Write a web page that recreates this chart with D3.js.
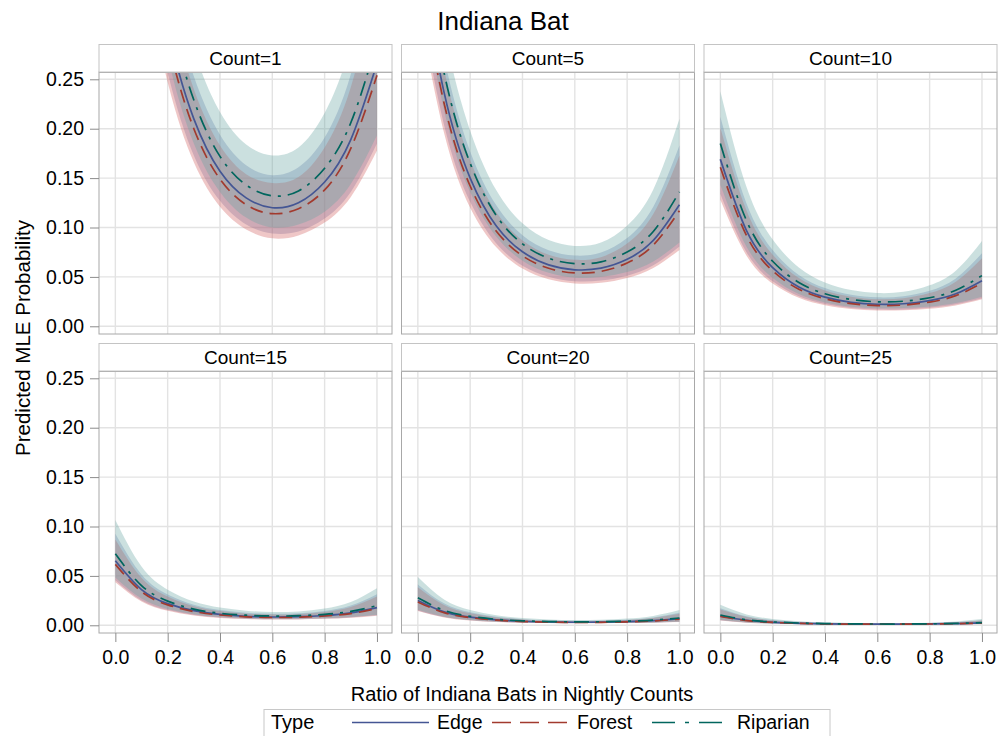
<!DOCTYPE html>
<html>
<head>
<meta charset="utf-8">
<script src="https://cdn.jsdelivr.net/npm/d3@7"></script>
<style>
body { margin: 0; background: #fff; }
text { font-family: Arial, "Liberation Sans", sans-serif; fill: #000; }
</style>
</head>
<body>
<svg id="chart" width="1000" height="736"></svg>
<script>
// ratio of Indiana bats (x), one panel per nightly count
const ratios = [0, 0.1, 0.2, 0.3, 0.4, 0.5, 0.6, 0.7, 0.8, 0.9, 1.0];
const counts = [1, 5, 10, 15, 20, 25];
const types = ['Edge', 'Forest', 'Riparian'];
const yTicks = [0, 0.05, 0.10, 0.15, 0.20, 0.25];
const xTicks = [0, 0.2, 0.4, 0.6, 0.8, 1.0];

// one row per count, one value per ratio
const edgeMean = [
	[0.632, 0.446, 0.302, 0.210, 0.157, 0.130, 0.120, 0.125, 0.146, 0.189, 0.266],
	[0.381, 0.237, 0.150, 0.1015, 0.0754, 0.0622, 0.0572, 0.0588, 0.0678, 0.0869, 0.123],
	[0.169, 0.0969, 0.0594, 0.0398, 0.0295, 0.0243, 0.0223, 0.0228, 0.0260, 0.0329, 0.0462],
	[0.0653, 0.0362, 0.0219, 0.0148, 0.0110, 0.0091, 0.0084, 0.0087, 0.0099, 0.0126, 0.0179],
	[0.0251, 0.0136, 0.0082, 0.0055, 0.0041, 0.0034, 0.0031, 0.0032, 0.0037, 0.0047, 0.0067],
	[0.0094, 0.0051, 0.0030, 0.0020, 0.0015, 0.0012, 0.0011, 0.0012, 0.0014, 0.0017, 0.0025]
];
const edgeLower = [
	[0.584, 0.394, 0.257, 0.173, 0.127, 0.103, 0.094, 0.096, 0.109, 0.136, 0.185],
	[0.339, 0.204, 0.126, 0.0839, 0.0614, 0.0501, 0.0455, 0.0463, 0.0512, 0.0617, 0.0807],
	[0.134, 0.0750, 0.0455, 0.0304, 0.0225, 0.0185, 0.0170, 0.0171, 0.0187, 0.0222, 0.0285],
	[0.0456, 0.0252, 0.0154, 0.0104, 0.0078, 0.0066, 0.0061, 0.0062, 0.0068, 0.0080, 0.0101],
	[0.0151, 0.0083, 0.0051, 0.0035, 0.0027, 0.0023, 0.0021, 0.0022, 0.0023, 0.0027, 0.0035],
	[0.0051, 0.0028, 0.0017, 0.0012, 0.0009, 0.0008, 0.0007, 0.0007, 0.0008, 0.0009, 0.0012]
];
const edgeUpper = [
	[0.677, 0.499, 0.352, 0.253, 0.194, 0.163, 0.153, 0.161, 0.191, 0.255, 0.367],
	[0.424, 0.273, 0.177, 0.1224, 0.0922, 0.0770, 0.0716, 0.0746, 0.0893, 0.1210, 0.183],
	[0.212, 0.1243, 0.0771, 0.0520, 0.0387, 0.0319, 0.0293, 0.0304, 0.0359, 0.0484, 0.0739],
	[0.0927, 0.0515, 0.0312, 0.0208, 0.0154, 0.0126, 0.0116, 0.0121, 0.0145, 0.0200, 0.0315],
	[0.0414, 0.0222, 0.0131, 0.0086, 0.0062, 0.0050, 0.0046, 0.0048, 0.0057, 0.0080, 0.0128],
	[0.0173, 0.0091, 0.0053, 0.0035, 0.0025, 0.0020, 0.0018, 0.0019, 0.0023, 0.0032, 0.0052]
];
const forestMean = [
	[0.618, 0.431, 0.290, 0.200, 0.149, 0.123, 0.114, 0.119, 0.138, 0.180, 0.254],
	[0.367, 0.226, 0.142, 0.0962, 0.0713, 0.0587, 0.0540, 0.0556, 0.0641, 0.0822, 0.117],
	[0.161, 0.0918, 0.0561, 0.0376, 0.0279, 0.0229, 0.0210, 0.0215, 0.0245, 0.0310, 0.0436],
	[0.0617, 0.0341, 0.0207, 0.0139, 0.0104, 0.0086, 0.0079, 0.0082, 0.0094, 0.0119, 0.0169],
	[0.0236, 0.0128, 0.0077, 0.0052, 0.0038, 0.0032, 0.0029, 0.0030, 0.0035, 0.0044, 0.0063],
	[0.0089, 0.0048, 0.0029, 0.0019, 0.0014, 0.0012, 0.0011, 0.0011, 0.0013, 0.0016, 0.0023]
];
const forestLower = [
	[0.571, 0.382, 0.247, 0.166, 0.121, 0.098, 0.089, 0.092, 0.105, 0.131, 0.178],
	[0.327, 0.196, 0.120, 0.0799, 0.0584, 0.0475, 0.0433, 0.0440, 0.0488, 0.0590, 0.0773],
	[0.128, 0.0715, 0.0433, 0.0289, 0.0213, 0.0176, 0.0161, 0.0163, 0.0178, 0.0211, 0.0273],
	[0.0435, 0.0241, 0.0147, 0.0099, 0.0074, 0.0063, 0.0058, 0.0059, 0.0065, 0.0076, 0.0097],
	[0.0144, 0.0080, 0.0049, 0.0033, 0.0025, 0.0022, 0.0020, 0.0021, 0.0022, 0.0026, 0.0033],
	[0.0049, 0.0027, 0.0017, 0.0011, 0.0009, 0.0007, 0.0007, 0.0007, 0.0008, 0.0009, 0.0011]
];
const forestUpper = [
	[0.662, 0.483, 0.337, 0.240, 0.183, 0.154, 0.145, 0.151, 0.181, 0.242, 0.350],
	[0.408, 0.260, 0.168, 0.1155, 0.0868, 0.0724, 0.0673, 0.0700, 0.0837, 0.1136, 0.173],
	[0.201, 0.1172, 0.0724, 0.0488, 0.0362, 0.0299, 0.0274, 0.0284, 0.0336, 0.0452, 0.0690],
	[0.0869, 0.0482, 0.0291, 0.0194, 0.0144, 0.0118, 0.0108, 0.0113, 0.0135, 0.0186, 0.0292],
	[0.0385, 0.0206, 0.0122, 0.0080, 0.0058, 0.0047, 0.0042, 0.0044, 0.0053, 0.0074, 0.0118],
	[0.0160, 0.0085, 0.0049, 0.0032, 0.0023, 0.0019, 0.0017, 0.0018, 0.0021, 0.0030, 0.0048]
];
const riparianMean = [
	[0.657, 0.474, 0.326, 0.229, 0.172, 0.143, 0.132, 0.137, 0.160, 0.206, 0.288],
	[0.407, 0.257, 0.165, 0.1121, 0.0834, 0.0689, 0.0634, 0.0652, 0.0751, 0.0960, 0.136],
	[0.185, 0.1070, 0.0658, 0.0443, 0.0329, 0.0271, 0.0248, 0.0254, 0.0289, 0.0365, 0.0513],
	[0.0724, 0.0402, 0.0245, 0.0164, 0.0122, 0.0102, 0.0094, 0.0097, 0.0111, 0.0141, 0.0199],
	[0.0279, 0.0152, 0.0091, 0.0061, 0.0045, 0.0038, 0.0035, 0.0036, 0.0041, 0.0052, 0.0074],
	[0.0104, 0.0056, 0.0034, 0.0023, 0.0017, 0.0014, 0.0013, 0.0013, 0.0015, 0.0019, 0.0027]
];
const riparianLower = [
	[0.605, 0.415, 0.273, 0.185, 0.136, 0.110, 0.100, 0.103, 0.116, 0.144, 0.193],
	[0.359, 0.219, 0.136, 0.0907, 0.0664, 0.0541, 0.0492, 0.0500, 0.0549, 0.0657, 0.0848],
	[0.143, 0.0805, 0.0489, 0.0327, 0.0242, 0.0199, 0.0183, 0.0184, 0.0200, 0.0236, 0.0300],
	[0.0485, 0.0270, 0.0165, 0.0112, 0.0084, 0.0071, 0.0066, 0.0067, 0.0072, 0.0084, 0.0105],
	[0.0158, 0.0087, 0.0054, 0.0037, 0.0028, 0.0024, 0.0023, 0.0023, 0.0025, 0.0029, 0.0036],
	[0.0053, 0.0029, 0.0018, 0.0012, 0.0010, 0.0008, 0.0008, 0.0008, 0.0008, 0.0010, 0.0012]
];
const riparianUpper = [
	[0.706, 0.533, 0.384, 0.280, 0.217, 0.184, 0.173, 0.181, 0.216, 0.286, 0.406],
	[0.457, 0.300, 0.198, 0.1376, 0.1043, 0.0874, 0.0814, 0.0848, 0.1018, 0.1384, 0.210],
	[0.238, 0.1409, 0.0879, 0.0596, 0.0444, 0.0367, 0.0337, 0.0349, 0.0415, 0.0563, 0.0864],
	[0.1067, 0.0596, 0.0361, 0.0241, 0.0179, 0.0147, 0.0134, 0.0140, 0.0169, 0.0235, 0.0375],
	[0.0488, 0.0262, 0.0154, 0.0101, 0.0073, 0.0059, 0.0053, 0.0056, 0.0068, 0.0095, 0.0154],
	[0.0207, 0.0110, 0.0064, 0.0041, 0.0030, 0.0024, 0.0021, 0.0022, 0.0027, 0.0039, 0.0064]
];

const series = [
	{type: 'Edge', mean: edgeMean, lower: edgeLower, upper: edgeUpper,
		line: '#445694', fill: '#6F7EB3', dash: null, legendDash: null},
	{type: 'Forest', mean: forestMean, lower: forestLower, upper: forestUpper,
		line: '#A23A2E', fill: '#D05B5B', dash: '13,7', legendDash: '19,9'},
	{type: 'Riparian', mean: riparianMean, lower: riparianLower, upper: riparianUpper,
		line: '#01665E', fill: '#66A5A0', dash: '15,7,3,7', legendDash: '23,10,4,10'}
];

const svg = d3.select('#chart');

// panel grid
const colX = [99, 401.5, 704];
const rowY = [44.5, 343.5];
const panelW = 293;
const stripH = 27.5;
const plotH = 262;

const x = d3.scaleLinear().domain([-0.0625, 1.0575]).range([0, panelW]);
const y = d3.scaleLinear().domain([-0.0078, 0.2574]).range([plotH, 0]);

const area = d3.area()
	.x(d => x(d.r))
	.y0(d => y(d.lo))
	.y1(d => y(d.hi))
	.curve(d3.curveNatural);
const line = d3.line()
	.x(d => x(d.r))
	.y(d => y(d.v))
	.curve(d3.curveNatural);

svg.append('defs').append('clipPath').attr('id', 'plotclip')
	.append('rect').attr('width', panelW).attr('height', plotH);

counts.forEach((count, i) => {
	const col = i % 3, row = Math.floor(i / 3);
	const g = svg.append('g')
		.attr('transform', `translate(${colX[col]},${rowY[row] + stripH})`);

	// strip header
	svg.append('rect')
		.attr('x', colX[col]).attr('y', rowY[row])
		.attr('width', panelW).attr('height', stripH)
		.attr('fill', '#fff').attr('stroke', '#c4c4c4');
	svg.append('text')
		.attr('x', colX[col] + panelW / 2).attr('y', rowY[row] + 20)
		.attr('text-anchor', 'middle').attr('font-size', 19)
		.text('Count=' + count);

	// grid
	g.selectAll('.gy').data(yTicks).join('line')
		.attr('x1', 0).attr('x2', panelW)
		.attr('y1', d => y(d)).attr('y2', d => y(d))
		.attr('stroke', '#e3e3e3').attr('stroke-width', 1.4);
	g.selectAll('.gx').data(xTicks).join('line')
		.attr('y1', 0).attr('y2', plotH)
		.attr('x1', d => x(d)).attr('x2', d => x(d))
		.attr('stroke', '#e3e3e3').attr('stroke-width', 1.4);

	const plot = g.append('g').attr('clip-path', 'url(#plotclip)');

	series.forEach(s => {
		const pts = ratios.map((r, j) => ({r: r, lo: s.lower[i][j], hi: s.upper[i][j]}));
		plot.append('path').datum(pts)
			.attr('d', area)
			.attr('fill', s.fill).attr('fill-opacity', 0.34);
	});
	series.forEach(s => {
		const pts = ratios.map((r, j) => ({r: r, v: s.mean[i][j]}));
		plot.append('path').datum(pts)
			.attr('d', line)
			.attr('fill', 'none')
			.attr('stroke', s.line).attr('stroke-width', 1.7)
			.attr('stroke-dasharray', s.dash);
	});

	// frame
	g.append('rect').attr('width', panelW).attr('height', plotH)
		.attr('fill', 'none').attr('stroke', '#a8a8a8');
	g.append('line').attr('x1', 0).attr('x2', panelW).attr('y1', 0).attr('y2', 0)
		.attr('stroke', '#a0a0a0').attr('stroke-width', 2);

	if (col === 0) {
		const ax = g.append('g').call(d3.axisLeft(y).tickValues(yTicks)
			.tickFormat(d3.format('.2f')).tickSize(9).tickPadding(6));
		ax.select('.domain').remove();
		ax.selectAll('line').attr('stroke', '#8c8c8c');
		ax.selectAll('text').attr('font-size', 19.5).style('font-family', 'Arial, "Liberation Sans", sans-serif');
	}
	if (row === 1) {
		const ax = g.append('g').attr('transform', `translate(0,${plotH})`)
			.call(d3.axisBottom(x).tickValues(xTicks)
				.tickFormat(d3.format('.1f')).tickSize(9).tickPadding(8));
		ax.select('.domain').remove();
		ax.selectAll('line').attr('stroke', '#8c8c8c');
		ax.selectAll('text').attr('font-size', 19.5).style('font-family', 'Arial, "Liberation Sans", sans-serif');
	}
});

// titles
svg.append('text').attr('x', 503).attr('y', 30)
	.attr('text-anchor', 'middle').attr('font-size', 26)
	.text('Indiana Bat');
svg.append('text').attr('x', 522).attr('y', 701)
	.attr('text-anchor', 'middle').attr('font-size', 20)
	.text('Ratio of Indiana Bats in Nightly Counts');
svg.append('text')
	.attr('transform', 'translate(30,338) rotate(-90)')
	.attr('text-anchor', 'middle').attr('font-size', 20.5)
	.text('Predicted MLE Probability');

// legend
const lg = svg.append('g');
lg.append('rect').attr('x', 264).attr('y', 709.5).attr('width', 566).attr('height', 32)
	.attr('fill', '#fff').attr('stroke', '#c8c8c8');
lg.append('text').attr('x', 271).attr('y', 729).attr('font-size', 20).text('Type');
const itemX = [352, 492, 652];
series.forEach((s, k) => {
	lg.append('line')
		.attr('x1', itemX[k]).attr('x2', itemX[k] + 77)
		.attr('y1', 722.5).attr('y2', 722.5)
		.attr('stroke', s.line).attr('stroke-width', 1.7)
		.attr('stroke-dasharray', s.legendDash);
	lg.append('text').attr('x', itemX[k] + 85).attr('y', 729)
		.attr('font-size', 19.5).text(s.type);
});
</script>
</body>
</html>
